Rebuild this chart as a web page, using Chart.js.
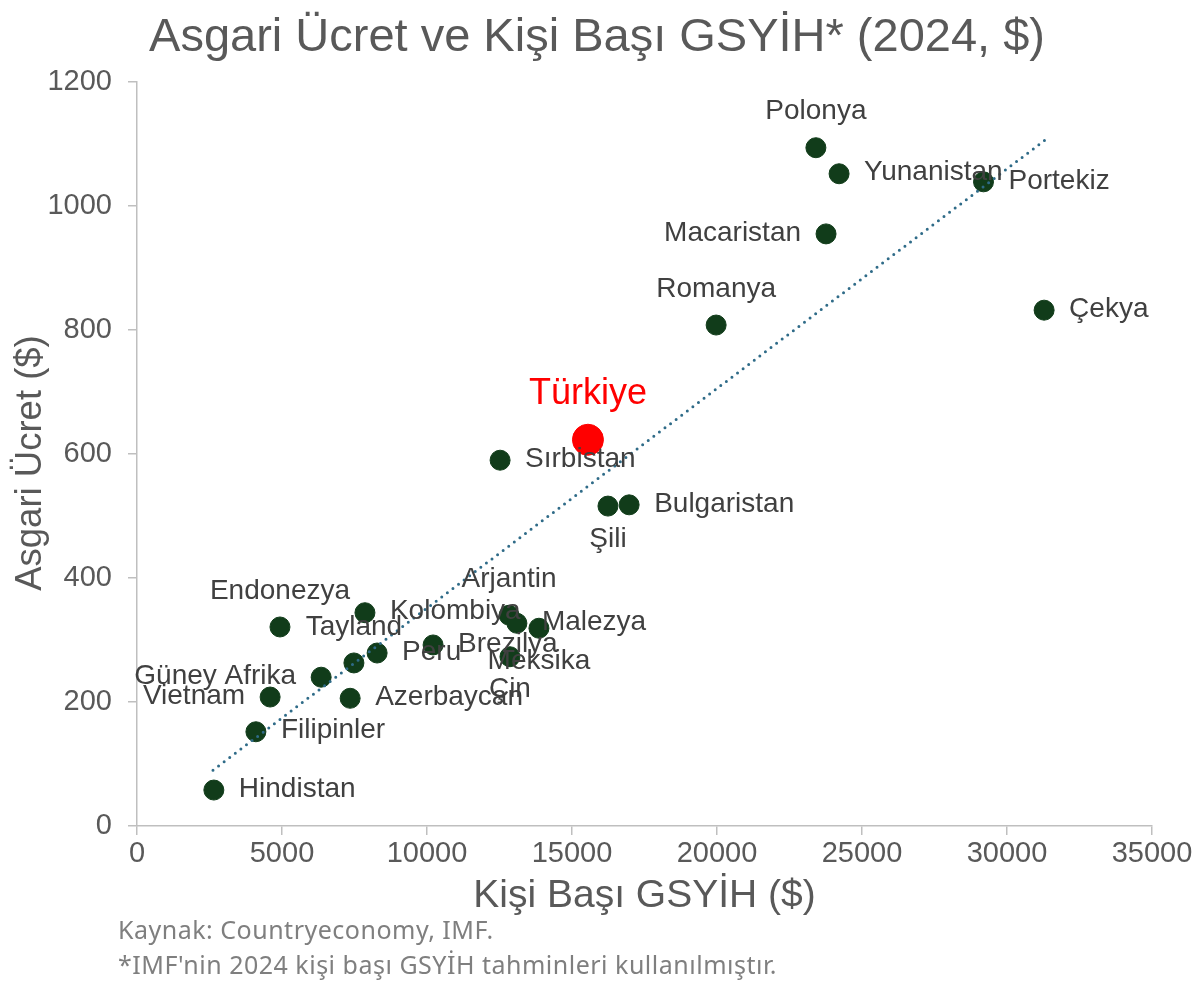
<!DOCTYPE html>
<html>
<head>
<meta charset="utf-8">
<script src="https://cdn.jsdelivr.net/npm/chart.js@4.4.1/dist/chart.umd.min.js"></script>
<style>
  html, body { margin: 0; padding: 0; background: #ffffff; }
  #wrap { width: 1200px; height: 992px; }
</style>
</head>
<body>
<div id="wrap"><canvas id="c" width="1200" height="992"></canvas></div>
<script>
// ---- Data ----
const countries = ['Hindistan','Filipinler','Vietnam','Güney Afrika','Endonezya','Tayland','Azerbaycan','Kolombiya','Peru','Brezilya','Arjantin','Malezya','Meksika','Çin','Sırbistan','Şili','Bulgaristan','Romanya','Macaristan','Polonya','Yunanistan','Portekiz','Çekya'];
const gdpPerCapita = [2650, 4100, 4590, 6350, 4930, 7480, 7350, 7860, 8280, 10210, 12830, 13100, 13860, 12860, 12520, 16240, 16970, 19970, 23760, 23410, 24210, 29190, 31280];
const minWage = [58, 152, 208, 240, 321, 263, 206, 344, 279, 292, 340, 327, 319, 273, 590, 516, 518, 808, 955, 1094, 1052, 1039, 832];
const turkeyName = ['Türkiye'];
const turkeyGdp = [15550];
const turkeyWage = [623];
const trendX = [2620, 31300];
const trendY = [90, 1106];
const xTicks = [0, 5000, 10000, 15000, 20000, 25000, 30000, 35000];
const yTicks = [0, 200, 400, 600, 800, 1000, 1200];

// label placement (style only)
const labelPos = ['right','right','left','left','above','above','right','right','right','right','above','right','below','below','right','below','right','above','left','above','right','right','right'];

const titleText = 'Asgari Ücret ve Kişi Başı GSYİH* (2024, $)';
const xTitle = 'Kişi Başı GSYİH ($)';
const yTitle = 'Asgari Ücret ($)';
const notes = ['Kaynak: Countryeconomy, IMF.', "*IMF'nin 2024 kişi başı GSYİH tahminleri kullanılmıştır."];

const FONT = "'Liberation Sans', Arial, Helvetica, sans-serif";
const GREY = '#595959';
const AXIS = '#bfbfbf';

const mainPts = gdpPerCapita.map((x, i) => ({x: x, y: minWage[i]}));
const trPts = turkeyGdp.map((x, i) => ({x: x, y: turkeyWage[i]}));
const trendPts = trendX.map((x, i) => ({x: x, y: trendY[i]}));

const decorPlugin = {
  id: 'decor',
  afterDraw(chart) {
    const ctx = chart.ctx;
    ctx.save();
    // title
    ctx.fillStyle = GREY;
    ctx.font = "47px " + FONT;
    ctx.textAlign = 'center';
    ctx.textBaseline = 'middle';
    ctx.fillText(titleText, 597, 38);
    // y-axis title
    ctx.save();
    ctx.translate(31, 463);
    ctx.rotate(-Math.PI / 2);
    ctx.font = "36.5px " + FONT;
    ctx.fillText(yTitle, 0, 0);
    ctx.restore();
    // point labels
    const meta = chart.getDatasetMeta(1);
    ctx.font = "28px " + FONT;
    ctx.fillStyle = '#404040';
    meta.data.forEach((pt, i) => {
      const pos = labelPos[i];
      let x = pt.x, y = pt.y;
      if (pos === 'right') { ctx.textAlign = 'left'; x += 25; y -= 1; }
      else if (pos === 'left') { ctx.textAlign = 'right'; x -= 25; y -= 1; }
      else if (pos === 'above') { ctx.textAlign = 'center'; y -= 36; }
      else { ctx.textAlign = 'center'; y += 33; }
      ctx.fillText(countries[i], x, y);
    });
    const tmeta = chart.getDatasetMeta(2);
    ctx.font = "36px " + FONT;
    ctx.fillStyle = '#ff0000';
    ctx.textAlign = 'center';
    tmeta.data.forEach((pt, i) => {
      ctx.fillText(turkeyName[i], pt.x, pt.y - 46);
    });
    // footnotes
    ctx.font = "25px 'Noto Sans', sans-serif";
    try { ctx.letterSpacing = '0.5px'; } catch (e) {}
    ctx.fillStyle = '#7f7f7f';
    ctx.textAlign = 'left';
    ctx.fillText(notes[0], 118, 932);
    ctx.fillText(notes[1], 118, 967);
    ctx.restore();
  }
};

new Chart(document.getElementById('c'), {
  type: 'scatter',
  data: {
    datasets: [
      {
        label: 'Trend',
        type: 'line',
        data: trendPts,
        borderColor: '#2f6b88',
        borderWidth: 3,
        borderDash: [0, 7],
        borderCapStyle: 'round',
        pointRadius: 0,
        fill: false,
        order: 0
      },
      {
        label: 'Ülkeler',
        data: mainPts,
        backgroundColor: '#113c1a',
        borderColor: '#113c1a',
        pointRadius: 10,
        pointHoverRadius: 10,
        order: 1
      },
      {
        label: 'Türkiye',
        data: trPts,
        backgroundColor: '#ff0000',
        borderColor: '#ff0000',
        pointRadius: 15.5,
        pointHoverRadius: 15.5,
        order: 1
      }
    ]
  },
  options: {
    responsive: false,
    animation: false,
    devicePixelRatio: 1,
    layout: { padding: { top: 82, right: 48, bottom: 0, left: 0 } },
    plugins: {
      legend: { display: false },
      tooltip: { enabled: false },
      title: { display: false }
    },
    scales: {
      x: {
        type: 'linear',
        min: 0, max: 35000,
        afterBuildTicks(scale) { scale.ticks = xTicks.map(v => ({value: v})); },
        afterFit(scale) { scale.height = 166; },
        grid: { display: true, drawOnChartArea: false, drawTicks: true, tickLength: 9, color: AXIS, lineWidth: 1.5 },
        border: { display: true, color: AXIS, width: 1.5 },
        ticks: { color: GREY, font: { family: FONT, size: 29 }, padding: 2, maxRotation: 0, autoSkip: false, callback: v => String(v) },
        title: { display: true, text: xTitle, color: GREY, font: { family: FONT, size: 39 }, padding: { top: 0, bottom: 72 } }
      },
      y: {
        type: 'linear',
        min: 0, max: 1200,
        afterBuildTicks(scale) { scale.ticks = yTicks.map(v => ({value: v})); },
        afterFit(scale) { scale.width = 137; },
        grid: { display: true, drawOnChartArea: false, drawTicks: true, tickLength: 9, color: AXIS, lineWidth: 1.5 },
        border: { display: true, color: AXIS, width: 1.5 },
        ticks: { color: GREY, font: { family: FONT, size: 29 }, padding: 16, autoSkip: false, callback: v => String(v) },
        title: { display: false, text: yTitle }
      }
    }
  },
  plugins: [decorPlugin]
});
</script>
</body>
</html>
